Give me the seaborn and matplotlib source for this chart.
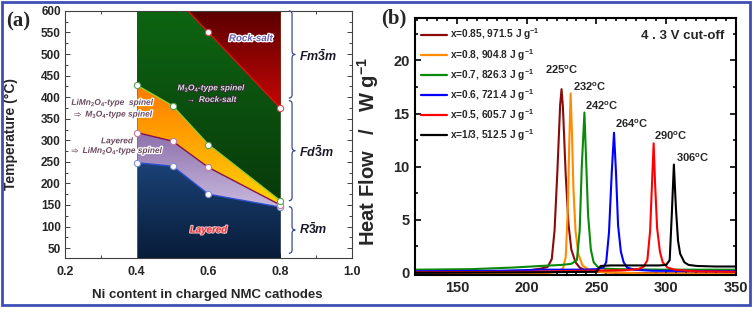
import matplotlib
matplotlib.use("Agg")
import matplotlib.pyplot as plt
import matplotlib.patheffects as pe
import numpy as np
import pandas as pd
import seaborn as sns
from matplotlib.colors import LinearSegmentedColormap
from matplotlib.patches import PathPatch, Rectangle
from matplotlib.path import Path
from matplotlib.ticker import MultipleLocator

# ---- panel (a): phase boundaries vs Ni content ----
ni = [0.4, 0.5, 0.6, 0.8]
t_layered = [248, 240, 175, 145]
t_limn2o4 = [318, 298, 237, 150]
t_m3o4 = [428, 380, 290, 160]
ni_rock = [0.543, 0.6, 0.8]
t_rock = [600, 550, 375]
rock_pts_ni = [0.6, 0.8]
rock_pts_t = [550, 375]

# ---- panel (b): DSC curves ----
labels = [
    "x=0.85, 971.5 J g$^{-1}$",
    "x=0.8, 904.8 J g$^{-1}$",
    "x=0.7, 826.3 J g$^{-1}$",
    "x=0.6, 721.4 J g$^{-1}$",
    "x=0.5, 605.7 J g$^{-1}$",
    "x=1/3, 512.5 J g$^{-1}$",
]
colors = ["#8b0a0a", "#ff8c00", "#0a8a0a", "#0000ff", "#ff0000", "#000000"]

t_085 = [120, 150, 180, 200, 210, 215, 218, 220, 222, 224, 225, 226, 228, 230, 232, 235, 238, 242, 250, 270, 300, 350]
hf_085 = [-0.05, -0.05, 0.0, 0.2, 0.4, 0.55, 1.3, 4.0, 9.5, 15.8, 17.3, 15.6, 9.2, 4.6, 2.2, 1.0, 0.5, 0.25, 0.1, 0.0, -0.05, -0.05]
t_080 = [120, 180, 215, 222, 226, 228, 229.5, 230.5, 231.5, 232.5, 233.5, 235, 237, 240, 245, 255, 300, 350]
hf_080 = [-0.1, -0.1, 0.0, 0.1, 0.4, 1.5, 6.0, 12.0, 16.9, 13.0, 8.0, 4.0, 1.8, 0.7, 0.25, 0.05, -0.1, -0.1]
t_070 = [120, 160, 190, 210, 225, 232, 236, 238, 239.5, 241.4, 242.5, 244, 246, 248, 251, 256, 265, 300, 350]
hf_070 = [0.3, 0.35, 0.5, 0.65, 0.75, 0.85, 1.2, 4.0, 10.0, 15.1, 11.0, 5.5, 2.2, 1.0, 0.55, 0.4, 0.35, 0.3, 0.3]
t_060 = [120, 180, 210, 240, 250, 255, 257, 259, 261, 262.6, 264, 265.5, 267.5, 269.5, 272, 277, 290, 350]
hf_060 = [0.15, 0.2, 0.3, 0.3, 0.35, 0.5, 1.0, 3.8, 9.5, 13.2, 9.5, 4.5, 2.0, 1.0, 0.5, 0.3, 0.2, 0.15]
t_050 = [120, 200, 240, 270, 280, 284, 286.5, 288.5, 290, 291, 292, 293.5, 295.5, 297.5, 301, 306, 320, 350]
hf_050 = [0.05, 0.1, 0.2, 0.25, 0.35, 0.6, 1.2, 4.0, 9.0, 12.2, 8.5, 4.2, 2.0, 1.0, 0.5, 0.3, 0.15, 0.1]
t_033 = [120, 200, 250, 253, 260, 280, 295, 300, 302.5, 304, 305.5, 307, 308.5, 310, 313, 316, 322, 335, 350]
hf_033 = [0.0, 0.05, 0.1, 0.65, 0.7, 0.7, 0.7, 0.75, 1.2, 5.5, 10.2, 6.0, 3.0, 1.8, 1.0, 0.75, 0.65, 0.6, 0.6]

peak_t = [225, 233, 242, 263, 291.4, 307]
peak_y = [19.1, 17.5, 15.7, 14.0, 12.9, 10.8]
peak_text = ["225$^{\\rm o}$C", "232$^{\\rm o}$C", "242$^{\\rm o}$C", "264$^{\\rm o}$C", "290$^{\\rm o}$C", "306$^{\\rm o}$C"]


def gradient_fill(ax, x, lower, upper, c_bottom, c_top):
    poly = ax.fill_between(x, lower, upper, color=c_bottom, lw=0, zorder=1)
    lo = float(np.min(np.atleast_1d(lower)))
    hi = float(np.max(np.atleast_1d(upper)))
    cmap = LinearSegmentedColormap.from_list("g", [c_bottom, c_top])
    img = ax.imshow(np.linspace(0, 1, 256).reshape(-1, 1), cmap=cmap, origin="lower",
                    aspect="auto", extent=[min(x), max(x), lo, hi], zorder=1.5)
    img.set_clip_path(poly.get_paths()[0], transform=ax.transData)


def brace(ax, x, y0, y1, w, color):
    ym = (y0 + y1) / 2
    d = 8
    verts = [(x - w, y1), (x, y1), (x, y1 - d), (x, ym + d), (x, ym), (x + w, ym),
             (x, ym), (x, ym - d), (x, y0 + d), (x, y0), (x - w, y0)]
    codes = [Path.MOVETO, Path.CURVE3, Path.CURVE3, Path.LINETO, Path.CURVE3, Path.CURVE3,
             Path.CURVE3, Path.CURVE3, Path.LINETO, Path.CURVE3, Path.CURVE3]
    ax.add_patch(PathPatch(Path(verts, codes), fc="none", ec=color, lw=0.9, zorder=5, clip_on=False))


sns.set_theme(style="ticks")
plt.rcParams["font.family"] = ["Liberation Sans", "DejaVu Sans"]
plt.rcParams["mathtext.fontset"] = "custom"
plt.rcParams["mathtext.rm"] = "Liberation Sans:bold"
plt.rcParams["mathtext.it"] = "Liberation Sans:italic:bold"
plt.rcParams["mathtext.bf"] = "Liberation Sans:bold"
plt.rcParams["mathtext.fallback"] = "stixsans"

fig = plt.figure(figsize=(7.54, 3.12), dpi=100)
ax1 = fig.add_axes([0.0862, 0.173, 0.3806, 0.792])
ax2 = fig.add_axes([0.5504, 0.1186, 0.4257, 0.8237])

# ---- panel (a) ----
ymin = 27
gradient_fill(ax1, ni, t_m3o4, 600, "#093a0b", "#0d6512")
gradient_fill(ax1, ni_rock, t_rock, 600, "#c40606", "#5a0000")
gradient_fill(ax1, ni, t_limn2o4, t_m3o4, "#ffd400", "#ff7a00")
gradient_fill(ax1, ni, t_layered, t_limn2o4, "#c9b9de", "#8d70ab")
gradient_fill(ax1, ni, ymin, t_layered, "#081c38", "#1b4277")

mk = dict(marker="o", markersize=4.5, markerfacecolor="white", markeredgewidth=0.8, zorder=6)
sns.lineplot(x=ni, y=t_layered, color="#2e4fd0", lw=1.0, markeredgecolor="#7f8fd0", ax=ax1, **mk)
sns.lineplot(x=ni, y=t_limn2o4, color="#8a1048", lw=1.0, markeredgecolor="#c07aa0", ax=ax1, **mk)
sns.lineplot(x=ni, y=t_m3o4, color="#9acd32", lw=1.0, markeredgecolor="#5aa05a", ax=ax1, **mk)
sns.lineplot(x=ni_rock, y=t_rock, color="#e01010", lw=1.0, ax=ax1, zorder=6)
sns.lineplot(x=rock_pts_ni, y=rock_pts_t, color="none", lw=0, markeredgecolor="#d05050", ax=ax1, **mk)
ax1.plot([0.4, 0.4], [ymin, 428], color="#707070", lw=0.5, zorder=3)

ax1.set_xlim(0.2, 1.0)
ax1.set_ylim(ymin, 600)
ax1.xaxis.set_major_locator(MultipleLocator(0.2))
ax1.xaxis.set_minor_locator(MultipleLocator(0.1))
ax1.yaxis.set_minor_locator(MultipleLocator(25))
ax1.set_yticks(range(50, 601, 50))
ax1.tick_params(which="both", direction="in", top=True, right=True, color="#404040", width=0.7)
ax1.tick_params(which="major", length=3.5, labelsize=8.5, pad=3)
ax1.tick_params(which="minor", length=2)
ax1.tick_params(axis="x", pad=6, labelsize=9)
for lab in ax1.get_xticklabels() + ax1.get_yticklabels():
    lab.set_fontweight("bold")
for sp in ax1.spines.values():
    sp.set_color("#404040")
    sp.set_linewidth(0.8)
ax1.set_xlabel("Ni content in charged NMC cathodes", fontsize=9.5, fontweight="bold")
ax1.set_ylabel("Temperature (°C)", fontsize=10, fontweight="bold")
ax1.xaxis.set_label_coords(0.495, -0.15)
ax1.xaxis.label.set_va("center")
ax1.yaxis.set_label_coords(-0.165, 0.5)

brace_col = "#3a4a8c"
brace(ax1, 0.833, 398, 600, 0.009, brace_col)
brace(ax1, 0.833, 160, 392, 0.009, brace_col)
brace(ax1, 0.833, 38, 146, 0.009, brace_col)
for yy, s in [(495, r"$Fm\bar{3}m$"), (272, r"$Fd\bar{3}m$"), (95, r"$R\bar{3}m$")]:
    ax1.text(0.852, yy, s, fontsize=9, ha="left", va="center", color="#1a1a2a", zorder=7)

white = [pe.withStroke(linewidth=1.8, foreground="white")]
ax1.text(0.718, 537, "Rock-salt", fontsize=7, style="italic", fontweight="bold",
         color="#6a5fb0", ha="center", va="center", path_effects=white, zorder=7)
ax1.text(0.61, 408, "M$_3$O$_4$-type spinel\n$\\rightarrow$ Rock-salt", fontsize=6, style="italic",
         fontweight="bold", color="#d8d8e0", ha="center", va="center", linespacing=1.1,
         path_effects=[pe.withStroke(linewidth=1.5, foreground="#303030")], zorder=7)
ax1.text(0.335, 372, "LiMn$_2$O$_4$-type  spinel\n$\\Rightarrow$ M$_3$O$_4$-type spinel", fontsize=6,
         style="italic", fontweight="bold", color="#6a4a5e", ha="center", va="center",
         linespacing=1.1, path_effects=white, zorder=7)
ax1.text(0.345, 283, "Layered\n$\\Rightarrow$ LiMn$_2$O$_4$-type spinel", fontsize=6, style="italic",
         fontweight="bold", color="#6a4a5e", ha="center", va="center", linespacing=1.1,
         path_effects=white, zorder=7)
ax1.text(0.6, 93, "Layered", fontsize=7, style="italic", fontweight="bold", color="#e8303e",
         ha="center", va="center", path_effects=[pe.withStroke(linewidth=1.5, foreground="#f0c0c0")],
         zorder=7)

# ---- panel (b) ----
curves = [(t_085, hf_085), (t_080, hf_080), (t_070, hf_070), (t_060, hf_060), (t_050, hf_050), (t_033, hf_033)]
frames = []
for lab, (tt, hh) in zip(labels, curves):
    frames.append(pd.DataFrame({"T": tt, "hf": hh, "sample": lab}))
dsc = pd.concat(frames, ignore_index=True)

sns.lineplot(data=dsc, x="T", y="hf", hue="sample", hue_order=labels, palette=colors,
             estimator=None, sort=False, lw=1.5, ax=ax2)

for tx, ty, s in zip(peak_t, peak_y, peak_text):
    ax2.text(tx, ty, s, fontsize=8, fontweight="bold", ha="center" if tx == 225 else "left", va="center")

ax2.text(0.965, 0.93, "4 . 3 V cut-off", transform=ax2.transAxes, fontsize=9.5, fontweight="bold",
         ha="right", va="center")

ax2.set_xlim(120, 350)
ax2.set_ylim(-0.2, 24)
ax2.xaxis.set_major_locator(MultipleLocator(50))
ax2.xaxis.set_minor_locator(MultipleLocator(50 / 7))
ax2.yaxis.set_major_locator(MultipleLocator(5))
ax2.yaxis.set_minor_locator(MultipleLocator(2.5))
ax2.tick_params(which="both", direction="in", top=True, right=True, color="black", width=1.2)
ax2.tick_params(which="major", length=4.5, labelsize=10.5, pad=4)
ax2.tick_params(which="minor", length=2.5)
for lab in ax2.get_xticklabels() + ax2.get_yticklabels():
    lab.set_fontweight("bold")
for sp in ax2.spines.values():
    sp.set_color("black")
    sp.set_linewidth(1.5)
ax2.set_xlabel("")
ax2.set_ylabel("Heat Flow   /   W g$^{-1}$", fontsize=14.5, fontweight="bold")
ax2.yaxis.set_label_coords(-0.105, 0.48)

leg = ax2.legend(loc="upper left", bbox_to_anchor=(0.0, 0.99), frameon=False, fontsize=7.3,
                 handlelength=2.6, handletextpad=0.3, labelspacing=0.42, borderaxespad=0.2)
for t in leg.get_texts():
    t.set_fontweight("bold")
for h in leg.get_lines():
    h.set_linewidth(1.6)

fig.text(0.024, 0.932, "(a)", fontsize=15, fontweight="bold", family="Liberation Serif", ha="center", va="center")
fig.text(0.522, 0.94, "(b)", fontsize=15, fontweight="bold", family="Liberation Serif", ha="center", va="center")

fig.patches.append(Rectangle((0.003, 0.022), 0.992, 0.97, transform=fig.transFigure, fill=False,
                             ec="#3e4fb5", lw=2.0, zorder=10))

fig.savefig("out.png", dpi=100)
plt.close(fig)
